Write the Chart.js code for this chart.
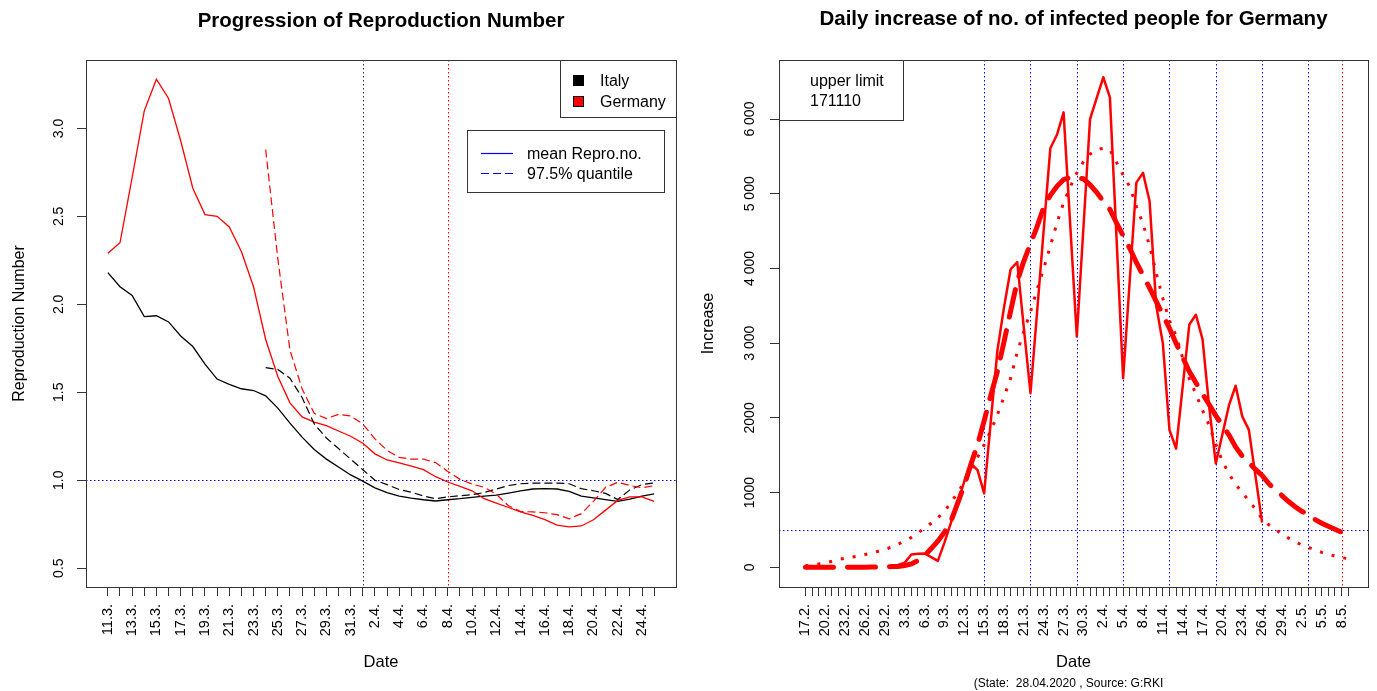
<!DOCTYPE html>
<html>
<head>
<meta charset="utf-8">
<title>Reproduction number / daily increase</title>
<script src="https://cdn.jsdelivr.net/npm/chart.js@4.4.0/dist/chart.umd.min.js"></script>
<style>
  html, body { margin: 0; padding: 0; background: #fff; }
  #wrap { position: relative; width: 1377px; height: 691px; overflow: hidden; }
  canvas { position: absolute; top: 0; }
  #left { left: 0; width: 690px; height: 691px; }
  #right { left: 690px; width: 687px; height: 691px; }
</style>
</head>
<body>
<div id="wrap">
  <canvas id="left" width="690" height="691"></canvas>
  <canvas id="right" width="687" height="691"></canvas>
</div>
<script>
'use strict'

// ---- left panel: reproduction number per day, 11.3. - 25.4.
const LEFT_DATES = ['11.3.', '12.3.', '13.3.', '14.3.', '15.3.', '16.3.', '17.3.', '18.3.', '19.3.', '20.3.',
	'21.3.', '22.3.', '23.3.', '24.3.', '25.3.', '26.3.', '27.3.', '28.3.', '29.3.', '30.3.', '31.3.',
	'1.4.', '2.4.', '3.4.', '4.4.', '5.4.', '6.4.', '7.4.', '8.4.', '9.4.', '10.4.', '11.4.', '12.4.',
	'13.4.', '14.4.', '15.4.', '16.4.', '17.4.', '18.4.', '19.4.', '20.4.', '21.4.', '22.4.', '23.4.',
	'24.4.', '25.4.']
const ITALY_MEAN = [2.18, 2.10, 2.05, 1.93, 1.935, 1.90, 1.82, 1.76, 1.66, 1.575, 1.545, 1.52, 1.51, 1.48,
	1.41, 1.325, 1.245, 1.175, 1.12, 1.075, 1.03, 0.995, 0.957, 0.93, 0.91, 0.898, 0.889, 0.882, 0.889,
	0.895, 0.903, 0.91, 0.915, 0.927, 0.94, 0.95, 0.952, 0.95, 0.936, 0.91, 0.90, 0.89, 0.88, 0.893, 0.91, 0.923]
const GERMANY_MEAN = [2.29, 2.35, 2.72, 3.10, 3.28, 3.17, 2.93, 2.66, 2.51, 2.50, 2.44, 2.30, 2.10, 1.80,
	1.59, 1.44, 1.36, 1.33, 1.31, 1.28, 1.25, 1.21, 1.15, 1.115, 1.098, 1.08, 1.06, 1.02, 0.99, 0.965, 0.94,
	0.895, 0.87, 0.845, 0.82, 0.80, 0.776, 0.745, 0.735, 0.74, 0.775, 0.83, 0.885, 0.905, 0.905, 0.88]
const ITALY_Q975 = [null, null, null, null, null, null, null, null, null, null, null, null, null,
	1.64, 1.63, 1.58, 1.47, 1.32, 1.24, 1.18, 1.12, 1.06, 1.00, 0.975, 0.947, 0.932, 0.91, 0.895, 0.905,
	0.912, 0.918, 0.93, 0.95, 0.97, 0.98, 0.984, 0.984, 0.984, 0.98, 0.952, 0.94, 0.925, 0.89, 0.945, 0.975, 0.985]
const GERMANY_Q975 = [null, null, null, null, null, null, null, null, null, null, null, null, null,
	2.88, 2.26, 1.74, 1.52, 1.38, 1.35, 1.375, 1.365, 1.32, 1.235, 1.17, 1.13, 1.12, 1.12, 1.10, 1.05,
	1.005, 0.978, 0.96, 0.92, 0.855, 0.822, 0.82, 0.815, 0.804, 0.781, 0.81, 0.88, 0.96, 0.988, 0.97, 0.957, 0.969]
const LEFT_Y_TICKS = [0.5, 1.0, 1.5, 2.0, 2.5, 3.0]
const LEFT_Y_LABELS = ['0.5', '1.0', '1.5', '2.0', '2.5', '3.0']
const R_ONE = 1.0
const LEFT_MARK_DAYS = ['1.4.', '8.4.']

// ---- right panel: daily increase of infected people in Germany, 17.2. - 9.5.
const RIGHT_DATES = ['17.2.', '18.2.', '19.2.', '20.2.', '21.2.', '22.2.', '23.2.', '24.2.', '25.2.', '26.2.',
	'27.2.', '28.2.', '29.2.', '1.3.', '2.3.', '3.3.', '4.3.', '5.3.', '6.3.', '7.3.', '8.3.', '9.3.', '10.3.',
	'11.3.', '12.3.', '13.3.', '14.3.', '15.3.', '16.3.', '17.3.', '18.3.', '19.3.', '20.3.', '21.3.', '22.3.',
	'23.3.', '24.3.', '25.3.', '26.3.', '27.3.', '28.3.', '29.3.', '30.3.', '31.3.', '1.4.', '2.4.', '3.4.',
	'4.4.', '5.4.', '6.4.', '7.4.', '8.4.', '9.4.', '10.4.', '11.4.', '12.4.', '13.4.', '14.4.', '15.4.',
	'16.4.', '17.4.', '18.4.', '19.4.', '20.4.', '21.4.', '22.4.', '23.4.', '24.4.', '25.4.', '26.4.',
	'27.4.', '28.4.', '29.4.', '30.4.', '1.5.', '2.5.', '3.5.', '4.5.', '5.5.', '6.5.', '7.5.', '8.5.', '9.5.']
const DAILY_INCREASE = [null, null, null, null, null, null, null, null, null, null, null, null, null, null,
	30, 60, 170, 180, 185, 135, 85, 330, 600, 870, 1150, 1390, 1300, 990, 1950, 2900, 3480, 3990, 4085,
	3200, 2330, 3420, 4520, 5610, 5790, 6090, 4590, 3090, 4545, 6000, 6280, 6560, 6290, 4410, 2530, 3840,
	5150, 5280, 4900, 3500, 3000, 1840, 1590, 2420, 3250, 3380, 3050, 2150, 1390, 1780, 2170, 2430, 2020,
	1840, 1220, 600]
const FIT_DASHED = [0, 0, 0, 0, 0, 0, 0, 1, 1, 2, 3, 4, 6, 9, 12, 22, 45, 90, 160, 250, 350, 470, 620,
	860, 1100, 1380, 1640, 1960, 2300, 2620, 3020, 3430, 3830, 4100, 4330, 4560, 4820, 4980, 5100, 5190,
	5220, 5220, 5200, 5120, 5020, 4900, 4790, 4610, 4440, 4270, 4080, 3910, 3740, 3560, 3380, 3200, 3000,
	2810, 2620, 2470, 2320, 2180, 2030, 1900, 1770, 1610, 1490, 1400, 1310, 1230, 1120, 1040, 960, 880,
	810, 750, 700, 640, 590, 550, 510, 470, 440]
const FIT_DOTTED = [20, 30, 45, 60, 80, 105, 120, 135, 150, 170, 190, 215, 240, 270, 310, 350, 400, 460,
	525, 590, 660, 750, 870, 1000, 1140, 1300, 1470, 1640, 1830, 2040, 2280, 2530, 2880, 3160, 3420, 3720,
	4000, 4300, 4610, 4880, 5090, 5280, 5430, 5530, 5590, 5610, 5590, 5420, 5250, 5095, 4830, 4600, 4300,
	3940, 3600, 3300, 3100, 2800, 2520, 2320, 2100, 1900, 1650, 1420, 1250, 1110, 1000, 890, 780, 650,
	570, 510, 440, 390, 340, 300, 265, 235, 200, 175, 150, 130, 115]
const RIGHT_Y_TICKS = [0, 1000, 2000, 3000, 4000, 5000, 6000]
const RIGHT_Y_LABELS = ['0', '1000', '2000', '3 000', '4 000', '5 000', '6 000']
const WEEK_MARKS = ['15.3.', '22.3.', '29.3.', '5.4.', '12.4.', '19.4.', '26.4.', '3.5.']
const END_MARK = '8.5.'
const LIMIT_LINE = 500
const UPPER_LIMIT = '171110'

const FONT = "'Liberation Sans', Arial, Helvetica, sans-serif"
const BLUE = '#0000ff'
const RED = '#ff0000'

const toPoints = function(arr) {
	return arr.map((v, i) => ({ x: i, y: v }))
}

const text = function(ctx, str, x, y, size, o = {}) {
	ctx.save()
	ctx.font = (o.bold ? 'bold ' : '') + size + 'px ' + FONT
	ctx.fillStyle = o.color || '#000'
	ctx.textAlign = o.align || 'left'
	ctx.textBaseline = 'alphabetic'
	ctx.translate(x, y)
	if (o.rotate) ctx.rotate(o.rotate)
	ctx.fillText(str, 0, 0)
	ctx.restore()
}

const seg = function(ctx, x1, y1, x2, y2, color, width, dash) {
	ctx.save()
	ctx.strokeStyle = color
	ctx.lineWidth = width
	ctx.setLineDash(dash || [])
	ctx.beginPath()
	ctx.moveTo(x1, y1)
	ctx.lineTo(x2, y2)
	ctx.stroke()
	ctx.restore()
}

const clipArea = function(ctx, a) {
	ctx.beginPath()
	ctx.rect(a.left, a.top, a.right - a.left, a.bottom - a.top)
	ctx.clip()
}

const px = v => Math.round(v) + 0.5

// ------------------------------------------------------------ left chart
const leftDecor = {
	id: 'leftDecor',
	beforeDatasetsDraw(chart) {
		const { ctx, chartArea: a, scales: { x, y } } = chart
		ctx.save()
		clipArea(ctx, a)
		const yy = px(y.getPixelForValue(R_ONE))
		seg(ctx, a.left, yy, a.right, yy, BLUE, 1, [1.5, 2.5])
		const markColors = ['#333', RED]
		LEFT_MARK_DAYS.forEach((d, k) => {
			const xx = px(x.getPixelForValue(LEFT_DATES.indexOf(d)))
			seg(ctx, xx, a.top, xx, a.bottom, markColors[k], 1, [1.5, 2.5])
		})
		ctx.restore()
	},
	afterDraw(chart) {
		const { ctx, chartArea: a, scales: { y } } = chart
		ctx.save()
		ctx.strokeStyle = '#333'
		ctx.lineWidth = 1
		ctx.strokeRect(px(a.left), px(a.top), Math.round(a.right - a.left), Math.round(a.bottom - a.top))

		LEFT_Y_TICKS.forEach((v, i) => {
			text(ctx, LEFT_Y_LABELS[i], a.left - 23, y.getPixelForValue(v), 14, { align: 'center', rotate: -Math.PI / 2 })
		})
		text(ctx, 'Progression of Reproduction Number', (a.left + a.right) / 2, 27, 20.5, { bold: true, align: 'center' })
		text(ctx, 'Date', (a.left + a.right) / 2, 667, 16.5, { align: 'center' })
		text(ctx, 'Reproduction Number', a.left - 62, (a.top + a.bottom) / 2, 16, { align: 'center', rotate: -Math.PI / 2 })

		// country legend (top right)
		ctx.fillStyle = '#fff'
		ctx.fillRect(a.right - 116, a.top, 116, 57)
		ctx.strokeRect(px(a.right - 116), px(a.top), 116, 57)
		ctx.fillStyle = '#000'
		ctx.fillRect(a.right - 103, a.top + 15, 11, 11)
		ctx.fillStyle = RED
		ctx.fillRect(a.right - 103, a.top + 36, 11, 11)
		ctx.strokeStyle = '#000'
		ctx.strokeRect(a.right - 102.5, a.top + 36.5, 10, 10)
		text(ctx, 'Italy', a.right - 76, a.top + 26, 16)
		text(ctx, 'Germany', a.right - 76, a.top + 47, 16)

		// line-type legend
		const lx = a.right - 209, ly = a.top + 70
		ctx.fillStyle = '#fff'
		ctx.fillRect(lx, ly, 197, 62)
		ctx.strokeStyle = '#333'
		ctx.strokeRect(px(lx), px(ly), 197, 62)
		seg(ctx, lx + 14, ly + 23.5, lx + 46, ly + 23.5, BLUE, 1.2)
		seg(ctx, lx + 14, ly + 43.5, lx + 46, ly + 43.5, BLUE, 1.2, [8, 4])
		text(ctx, 'mean Repro.no.', lx + 60, ly + 29, 16)
		text(ctx, '97.5% quantile', lx + 60, ly + 49, 16)
		ctx.restore()
	}
}

const leftChart = new Chart(document.getElementById('left').getContext('2d'), {
	type: 'line',
	data: {
		datasets: [
			{ label: 'Germany 97.5% quantile', data: toPoints(GERMANY_Q975), borderColor: RED, borderWidth: 1.2, borderDash: [8, 4] },
			{ label: 'Italy 97.5% quantile', data: toPoints(ITALY_Q975), borderColor: '#000', borderWidth: 1.2, borderDash: [8, 4] },
			{ label: 'Germany', data: toPoints(GERMANY_MEAN), borderColor: RED, borderWidth: 1.3 },
			{ label: 'Italy', data: toPoints(ITALY_MEAN), borderColor: '#000', borderWidth: 1.3 }
		]
	},
	options: {
		responsive: false,
		animation: false,
		events: [],
		elements: { point: { radius: 0 }, line: { tension: 0, fill: false } },
		layout: { padding: { left: 0, right: 14, top: 60, bottom: 0 } },
		plugins: { legend: { display: false }, title: { display: false }, tooltip: { enabled: false } },
		scales: {
			x: {
				type: 'linear',
				min: -1.8,
				max: 46.8,
				afterBuildTicks: s => { s.ticks = LEFT_DATES.map((d, i) => ({ value: i })) },
				afterFit: s => { s.height = 104 },
				border: { display: false },
				grid: { drawOnChartArea: false, drawTicks: true, tickLength: 9, color: '#333' },
				ticks: {
					autoSkip: false, minRotation: 90, maxRotation: 90, padding: 8, color: '#000',
					font: { family: FONT, size: 14.5 },
					callback: v => (v % 2 === 0 ? LEFT_DATES[v] : '')
				}
			},
			y: {
				type: 'linear',
				min: 0.393,
				max: 3.389,
				afterBuildTicks: s => { s.ticks = LEFT_Y_TICKS.map(v => ({ value: v })) },
				afterFit: s => { s.width = 86 },
				border: { display: false },
				grid: { drawOnChartArea: false, drawTicks: true, tickLength: 9, color: '#333' },
				ticks: { display: false }
			}
		}
	},
	plugins: [leftDecor]
})

// ------------------------------------------------------------ right chart
const rightDecor = {
	id: 'rightDecor',
	beforeDatasetsDraw(chart) {
		const { ctx, chartArea: a, scales: { x, y } } = chart
		ctx.save()
		clipArea(ctx, a)
		WEEK_MARKS.forEach(d => {
			const xx = px(x.getPixelForValue(RIGHT_DATES.indexOf(d)))
			seg(ctx, xx, a.top, xx, a.bottom, BLUE, 1, [1.5, 2.5])
		})
		const xe = px(x.getPixelForValue(RIGHT_DATES.indexOf(END_MARK)))
		seg(ctx, xe, a.top, xe, a.bottom, RED, 1, [1.5, 2.5])
		const yy = px(y.getPixelForValue(LIMIT_LINE))
		seg(ctx, a.left, yy, a.right, yy, BLUE, 1, [1.5, 2.5])
		ctx.restore()
	},
	afterDraw(chart) {
		const { ctx, chartArea: a, scales: { y } } = chart
		ctx.save()
		ctx.strokeStyle = '#333'
		ctx.lineWidth = 1
		ctx.strokeRect(px(a.left), px(a.top), Math.round(a.right - a.left), Math.round(a.bottom - a.top))

		RIGHT_Y_TICKS.forEach((v, i) => {
			text(ctx, RIGHT_Y_LABELS[i], a.left - 25, y.getPixelForValue(v), 14, { align: 'center', rotate: -Math.PI / 2 })
		})
		text(ctx, 'Daily increase of no. of infected people for Germany', (a.left + a.right) / 2, 25, 20.5, { bold: true, align: 'center' })
		text(ctx, 'Date', (a.left + a.right) / 2, 667, 16.5, { align: 'center' })
		text(ctx, '(State:  28.04.2020 , Source: G:RKI', (a.left + a.right) / 2 - 5, 687, 12, { align: 'center' })
		text(ctx, 'Increase', a.left - 66, (a.top + a.bottom) / 2, 16, { align: 'center', rotate: -Math.PI / 2 })

		ctx.fillStyle = '#fff'
		ctx.fillRect(a.left, a.top, 124, 60)
		ctx.strokeRect(px(a.left), px(a.top), 124, 60)
		text(ctx, 'upper limit', a.left + 31, a.top + 26, 16)
		text(ctx, UPPER_LIMIT, a.left + 31, a.top + 46, 16)
		ctx.restore()
	}
}

const rightChart = new Chart(document.getElementById('right').getContext('2d'), {
	type: 'line',
	data: {
		datasets: [
			{ label: 'fit (dotted)', data: toPoints(FIT_DOTTED), borderColor: RED, borderWidth: 3, borderDash: [3, 9] },
			{ label: 'fit (dashed)', data: toPoints(FIT_DASHED), borderColor: RED, borderWidth: 5, borderDash: [28, 14], borderCapStyle: 'round' },
			{ label: 'daily increase', data: toPoints(DAILY_INCREASE), borderColor: RED, borderWidth: 2.5, borderJoinStyle: 'round' }
		]
	},
	options: {
		responsive: false,
		animation: false,
		events: [],
		elements: { point: { radius: 0 }, line: { tension: 0, fill: false } },
		layout: { padding: { left: 0, right: 9, top: 60, bottom: 0 } },
		plugins: { legend: { display: false }, title: { display: false }, tooltip: { enabled: false } },
		scales: {
			x: {
				type: 'linear',
				min: -4.0,
				max: 85.0,
				afterBuildTicks: s => { s.ticks = RIGHT_DATES.map((d, i) => ({ value: i })) },
				afterFit: s => { s.height = 104 },
				border: { display: false },
				grid: { drawOnChartArea: false, drawTicks: true, tickLength: 9, color: '#333' },
				ticks: {
					autoSkip: false, minRotation: 90, maxRotation: 90, padding: 8, color: '#000',
					font: { family: FONT, size: 14.5 },
					callback: v => (v % 3 === 0 ? RIGHT_DATES[v] : '')
				}
			},
			y: {
				type: 'linear',
				min: -264,
				max: 6791,
				afterBuildTicks: s => { s.ticks = RIGHT_Y_TICKS.map(v => ({ value: v })) },
				afterFit: s => { s.width = 89 },
				border: { display: false },
				grid: { drawOnChartArea: false, drawTicks: true, tickLength: 9, color: '#333' },
				ticks: { display: false }
			}
		}
	},
	plugins: [rightDecor]
})
</script>
</body>
</html>
